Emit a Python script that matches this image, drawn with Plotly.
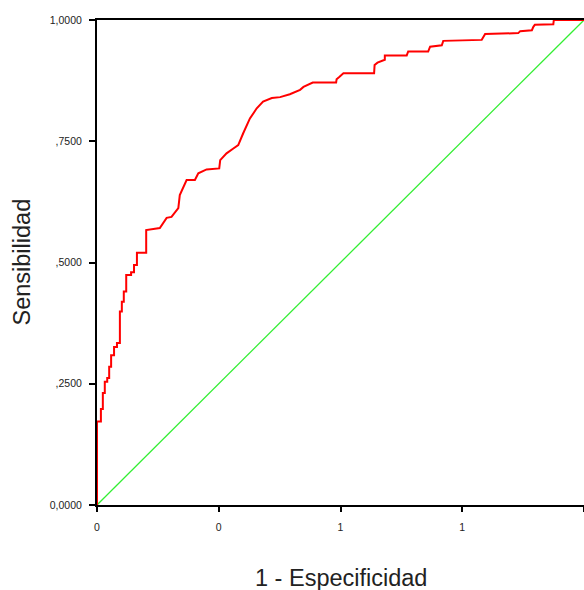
import plotly.graph_objects as go

# ROC curve (1 - specificity, sensitivity)
fpr = [0.000, 0.000, 0.008, 0.008, 0.012, 0.012, 0.016, 0.016, 0.021, 0.021,
       0.025, 0.025, 0.029, 0.029, 0.035, 0.035, 0.041, 0.041, 0.047, 0.047,
       0.051, 0.051, 0.055, 0.055, 0.060, 0.060, 0.070, 0.070, 0.076, 0.076,
       0.082, 0.082, 0.101, 0.101, 0.129, 0.143, 0.153, 0.167, 0.170, 0.184,
       0.201, 0.208, 0.225, 0.251, 0.253, 0.266, 0.280, 0.290, 0.300, 0.314,
       0.328, 0.341, 0.359, 0.376, 0.396, 0.417, 0.424, 0.434, 0.443, 0.491,
       0.492, 0.498, 0.506, 0.569, 0.570, 0.576, 0.591, 0.591, 0.636, 0.639,
       0.680, 0.684, 0.708, 0.711, 0.790, 0.797, 0.865, 0.869, 0.893, 0.896,
       0.899, 0.937, 0.938, 1.000]
tpr = [0.000, 0.172, 0.172, 0.198, 0.198, 0.231, 0.231, 0.254, 0.254, 0.262,
       0.262, 0.285, 0.285, 0.309, 0.309, 0.326, 0.326, 0.334, 0.334, 0.399,
       0.399, 0.419, 0.419, 0.440, 0.440, 0.474, 0.474, 0.480, 0.480, 0.495,
       0.495, 0.520, 0.520, 0.567, 0.571, 0.592, 0.594, 0.612, 0.639, 0.670,
       0.670, 0.684, 0.692, 0.694, 0.711, 0.725, 0.735, 0.742, 0.766, 0.797,
       0.818, 0.832, 0.839, 0.841, 0.847, 0.856, 0.862, 0.866, 0.871, 0.871,
       0.878, 0.883, 0.890, 0.890, 0.907, 0.912, 0.918, 0.927, 0.927, 0.935,
       0.935, 0.945, 0.948, 0.957, 0.959, 0.971, 0.973, 0.977, 0.979, 0.986,
       0.990, 0.991, 1.000, 1.000]

ref_x = [0.0, 1.0]
ref_y = [0.0, 1.0]

tick_vals = [0.0, 0.25, 0.5, 0.75, 1.0]
y_tick_text = ["0,0000", ",2500", ",5000", ",7500", "1,0000"]
x_tick_text = ["0", "0", "1", "1", "1"]

x_title = "1 - Especificidad"
y_title = "Sensibilidad"

fig = go.Figure()
fig.add_trace(go.Scatter(x=ref_x, y=ref_y, mode="lines",
                         line=dict(color="#33ee33", width=1.3),
                         cliponaxis=False, showlegend=False, hoverinfo="skip"))
fig.add_trace(go.Scatter(x=fpr, y=tpr, mode="lines",
                         line=dict(color="#ff0000", width=2),
                         cliponaxis=False, showlegend=False))

axis_font = dict(family="Liberation Sans, Arial, sans-serif", size=10.5, color="#222222")

fig.update_layout(
    width=584, height=590,
    margin=dict(l=97, r=0, t=20, b=85),
    paper_bgcolor="white", plot_bgcolor="white",
    font=dict(family="Liberation Sans, Arial, sans-serif"),
    xaxis=dict(range=[0, 1], tickvals=tick_vals, ticktext=x_tick_text,
               showgrid=False, zeroline=False, showline=True, linecolor="black",
               linewidth=2, mirror=True, ticks="outside", ticklen=5, tickwidth=2,
               tickcolor="black", tickfont=axis_font, layer="below traces",
               ticklabelstandoff=6),
    yaxis=dict(range=[0, 1], tickvals=tick_vals, ticktext=y_tick_text,
               showgrid=False, zeroline=False, showline=True, linecolor="black",
               linewidth=2, ticks="outside", ticklen=6, tickwidth=2,
               tickcolor="black", tickfont=axis_font, layer="below traces",
               ticklabelstandoff=5),
    annotations=[
        dict(text=x_title, xref="paper", yref="paper", x=0.5, y=(505 - 578) / 485,
             xanchor="center", yanchor="middle", showarrow=False,
             font=dict(family="Liberation Sans, Arial, sans-serif", size=23.5, color="#222222")),
        dict(text=y_title, xref="paper", yref="paper", x=(21 - 97) / 487, y=0.5,
             xanchor="center", yanchor="middle", showarrow=False, textangle=-90,
             font=dict(family="Liberation Sans, Arial, sans-serif", size=23.5, color="#222222")),
    ],
)

fig.write_html("out.html")
